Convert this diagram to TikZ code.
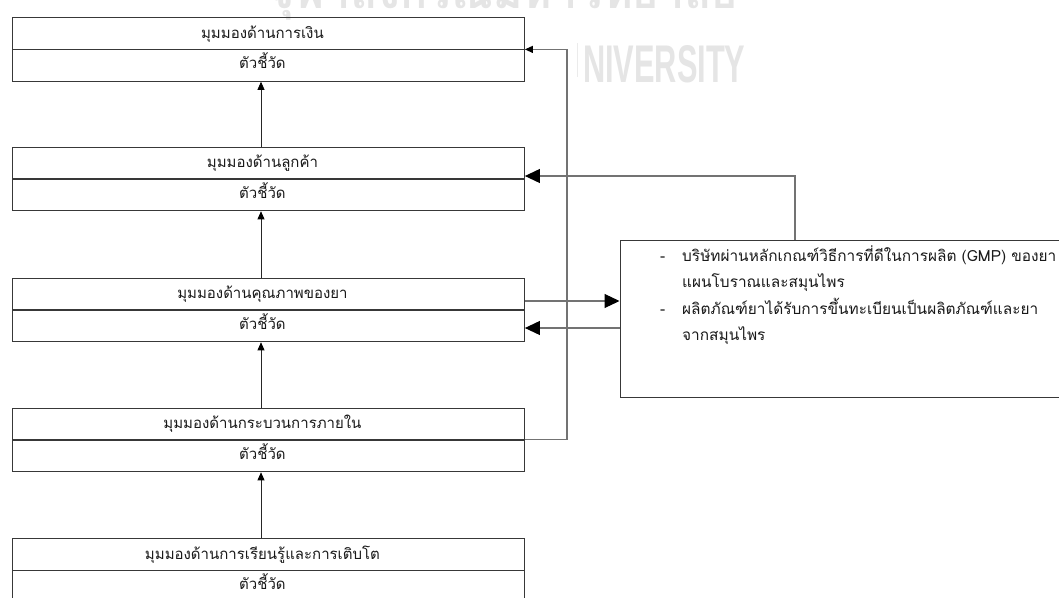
\documentclass[tikz,border=0pt]{standalone}
\usepackage{fontspec}
\newfontfamily\thai[Script=Thai]{Loma}
\newfontfamily\wmlatin{Liberation Sans}
\usetikzlibrary{arrows.meta}

\tikzset{
  half/.style={draw=black!78, line width=0.9pt, minimum width=512pt, minimum height=31.5pt,
    inner sep=0pt, anchor=north west},
  ptext/.style={font=\thai\fontsize{15}{17}\selectfont, text=black!90, inner sep=0pt, anchor=base},
  body/.style={font=\thai\fontsize{15.4}{18}\selectfont, text=black!90, inner sep=0pt, anchor=base west},
  link/.style={draw=black!85, line width=0.8pt},
  feed/.style={draw=black!55, line width=1.1pt},
  smalltip/.style={-{Triangle[length=8pt,width=7pt,color=black]}},
  bigtip/.style={-{Triangle[length=15pt,width=14pt,color=black]}},
  wmark/.style={text=black!10, inner sep=0pt}
}

\begin{document}
\begin{tikzpicture}[x=1pt, y=-1pt]
\clip (0,0) rectangle (1059,597);
\path[use as bounding box, fill=white] (0,0) rectangle (1059,597);

% faint watermark
\node[wmark, anchor=base west, font=\thai\bfseries\fontsize{45}{45}\selectfont] (wmth) at (268,9) {จุฬาลงกรณ์มหาวิทยาลัย};
\node[wmark, anchor=base west, font=\wmlatin\bfseries\fontsize{53}{53}\selectfont, xscale=0.58] (wmen) at (583,82) {NIVERSITY};
\draw[black!8, line width=1pt] (577,43) -- (577,77);

% the five perspectives, each a title row over an indicator row
\foreach \i/\y/\t in {1/17/มุมมองด้านการเงิน,
                      2/146.5/มุมมองด้านลูกค้า,
                      3/277.5/มุมมองด้านคุณภาพของยา,
                      4/407.5/มุมมองด้านกระบวนการภายใน,
                      5/538/มุมมองด้านการเรียนรู้และการเติบโต}{
  \node[half] (p\i t) at (12,\y) {};
  \node[half] (p\i b) at (p\i t.south west) {};
  \node[ptext] (l\i t) at ([xshift=-6pt, yshift=-21pt]p\i t.north) {\t};
  \node[ptext] (l\i b) at ([xshift=-6pt, yshift=-19.5pt]p\i b.north) {ตัวชี้วัด};
}

% box of results on the right
\node[draw=black!78, line width=0.9pt, anchor=north west, minimum width=460pt,
      minimum height=157pt, inner sep=0pt] (rb) at (619.5,240) {};
\node[body] (d1) at (660,261) {-};
\node[body] (t1) at (682,261) {บริษัทผ่านหลักเกณฑ์วิธีการที่ดีในการผลิต (GMP) ของยา};
\node[body] (t2) at (682,287.5) {แผนโบราณและสมุนไพร};
\node[body] (d2) at (660,314) {-};
\node[body] (t3) at (682,314) {ผลิตภัณฑ์ยาได้รับการขึ้นทะเบียนเป็นผลิตภัณฑ์และยา};
\node[body] (t4) at (682,340) {จากสมุนไพร};

% upward chain between perspectives
\coordinate (axis) at (261,0);
\foreach \a/\b in {2/1,3/2,4/3,5/4}{
  \draw[link, smalltip] (p\a t.north -| axis) -- (p\b b.south -| axis);
}

% loop from internal process back to finance
\coordinate (loopx) at (567,0);
\draw[feed, smalltip] (p4t.south east) -- (p4t.south east -| loopx)
  -- (p1t.south east -| loopx) -- (p1t.south east);

% links with the results box
\coordinate (up) at (795,0);
\coordinate (row2) at (0,176);
\coordinate (out3) at (0,301);
\coordinate (in3) at (0,328);
\draw[feed, bigtip] (rb.north -| up) -- (row2 -| up) -- (row2 -| p2t.east);
\draw[feed, bigtip] (out3 -| p3t.east) -- (out3 -| rb.west);
\draw[feed, bigtip] (in3 -| rb.west) -- (in3 -| p3t.east);
\end{tikzpicture}
\end{document}
